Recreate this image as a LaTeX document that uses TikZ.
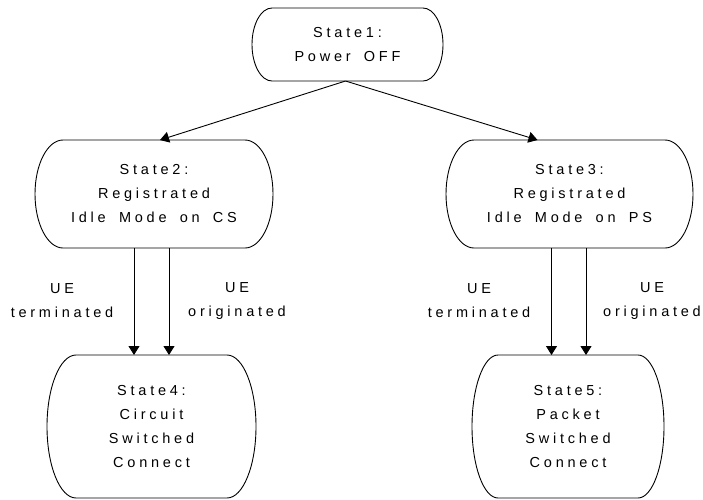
\documentclass[tikz,border=0pt]{standalone}
\usepackage{fontspec}
\newfontfamily\labfont[LetterSpace=26,WordSpace=1.7]{Liberation Sans}
\usetikzlibrary{arrows.meta,calc}
\newcommand\stadiumshape[2]{%
  \draw[boxline] ([xshift=#2pt]#1.north west) -- ([xshift=-#2pt]#1.north east)
    .. controls ([xshift={-0.448*#2pt}]#1.north east) and ($(#1.east)!0.552!(#1.north east)$) .. (#1.east)
    .. controls ($(#1.east)!0.552!(#1.south east)$) and ([xshift={-0.448*#2pt}]#1.south east) .. ([xshift=-#2pt]#1.south east)
    -- ([xshift=#2pt]#1.south west)
    .. controls ([xshift={0.448*#2pt}]#1.south west) and ($(#1.west)!0.552!(#1.south west)$) .. (#1.west)
    .. controls ($(#1.west)!0.552!(#1.north west)$) and ([xshift={0.448*#2pt}]#1.north west) .. cycle;}
\begin{document}
\begin{tikzpicture}[x=1pt,y=-1pt,
  txt/.style={font=\labfont\fontsize{14.5}{24}\selectfont, align=center, inner sep=0pt, outer sep=0pt},
  stbox/.style={txt, draw=none, minimum width=#1},
  boxline/.style={draw=black, line width=0.9pt},
  arr/.style={draw=black, line width=0.9pt, -{Triangle[length=9pt,width=11pt]}}]
\path[use as bounding box] (0,0) rectangle (703,499);
% states
\node[stbox=191pt, minimum height=73pt] (b1) at (347.5,44.5) {State1:\\Power OFF};
\node[stbox=238pt, minimum height=108pt] (b2) at (154,194) {State2:\\Registrated\\Idle Mode on CS};
\node[stbox=247pt, minimum height=108pt] (b3) at (569.5,194) {State3:\\Registrated\\Idle Mode on PS};
\node[stbox=209pt, minimum height=143pt] (b4) at (151.5,426.5) {State4:\\Circuit\\Switched\\Connect};
\node[stbox=192pt, minimum height=143pt] (b5) at (568,426.5) {State5:\\Packet\\Switched\\Connect};
\stadiumshape{b1}{20}
\stadiumshape{b2}{28}
\stadiumshape{b3}{28}
\stadiumshape{b4}{29}
\stadiumshape{b5}{26}
% connector columns
\coordinate (t1) at (134,0);
\coordinate (o1) at (169,0);
\coordinate (t2) at (551.5,0);
\coordinate (o2) at (586,0);
% connectors
\draw[arr] ([xshift=-2pt]b1.south) -- ([xshift=6pt]b2.north);
\draw[arr] ([xshift=-2pt]b1.south) -- ([xshift=-32pt]b3.north);
\draw[arr] (b2.south -| t1) -- (b4.north -| t1);
\draw[arr] (b2.south -| o1) -- (b4.north -| o1);
\draw[arr] (b3.south -| t2) -- (b5.north -| t2);
\draw[arr] (b3.south -| o2) -- (b5.north -| o2);
% labels
\node[txt] (l1) at (62,301) {UE\\terminated};
\node[txt] (l2) at (237,301) {UE\\originated};
\node[txt] (l3) at (479,301) {UE\\terminated};
\node[txt] (l4) at (652,301) {UE\\originated};
\end{tikzpicture}
\end{document}
